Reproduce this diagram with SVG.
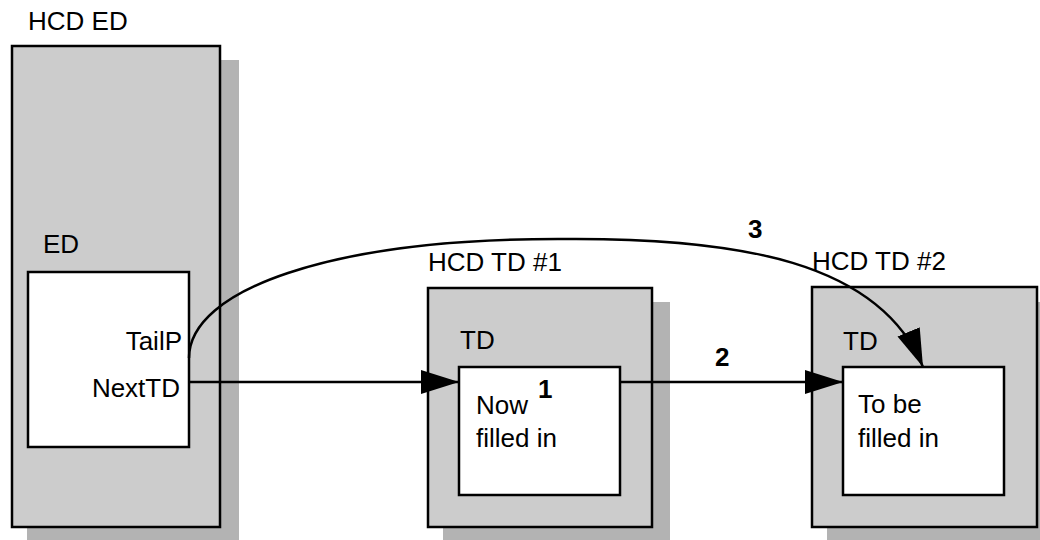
<svg xmlns="http://www.w3.org/2000/svg" width="1040" height="540" viewBox="0 0 1040 540">
<defs>
<style>
text{font-family:"Liberation Sans",Arial,sans-serif;font-size:26px;fill:#000}
.b{font-weight:bold}
.shadow{fill:#b3b3b3;stroke:none}
.outer{fill:#cccccc;stroke:#000;stroke-width:2.5}
.inner{fill:#fff;stroke:#000;stroke-width:2.5}
.conn{fill:none;stroke:#000;stroke-width:2.5}
</style>
<marker id="ah" markerUnits="userSpaceOnUse" markerWidth="40" markerHeight="26" refX="38" refY="12" orient="auto">
<path d="M0,0 L38,12 L0,24 z" fill="#000"/>
</marker>
</defs>
<rect width="1040" height="540" fill="#fff"/>
<g id="hcd-ed">
<text x="28" y="30">HCD ED</text>
<rect class="shadow" x="27" y="60" width="212" height="480"/>
<rect class="outer" x="12" y="46" width="208" height="481"/>
<g id="ed">
<text x="43" y="253">ED</text>
<rect class="inner" x="28" y="272" width="161" height="175"/>
<text x="182" y="350" text-anchor="end">TailP</text>
<text x="180" y="397" text-anchor="end">NextTD</text>
</g>
</g>
<g id="hcd-td1">
<text x="428" y="271">HCD TD #1</text>
<rect class="shadow" x="443" y="302" width="227" height="240"/>
<rect class="outer" x="428" y="288" width="224" height="239"/>
<g id="td1">
<text x="460" y="349">TD</text>
<rect class="inner" x="459" y="367" width="161" height="128"/>
<text x="476" y="414">Now</text>
<text x="476" y="447">filled in</text>
<text class="b" x="538" y="398">1</text>
</g>
</g>
<g id="hcd-td2">
<text x="812" y="270">HCD TD #2</text>
<rect class="shadow" x="827" y="302" width="215" height="240"/>
<rect class="outer" x="812" y="287" width="225" height="240"/>
<g id="td2">
<text x="843" y="350">TD</text>
<rect class="inner" x="843" y="367" width="161" height="128"/>
<text x="858" y="413">To be</text>
<text x="858" y="447">filled in</text>
</g>
</g>
<g id="connectors">
<path class="conn" d="M189,382 L459,382" marker-end="url(#ah)"/>
<path class="conn" d="M620,382 L843,382" marker-end="url(#ah)"/>
<path class="conn" d="M189,358 C189,290 330,239 558,239 C740,237 880,262 923,367" marker-end="url(#ah)"/>
<text class="b" x="715" y="366">2</text>
<text class="b" x="748" y="238">3</text>
</g>
</svg>
